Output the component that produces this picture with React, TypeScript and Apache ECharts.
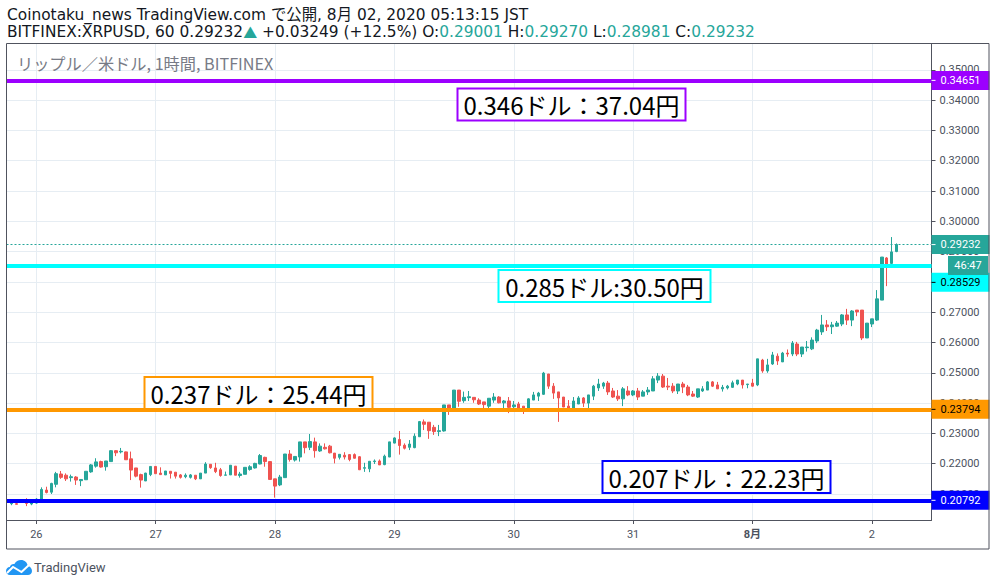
import React, { useEffect, useRef } from "react";
import * as echarts from "echarts";

const dayLabels = ["26", "27", "28", "29", "30", "31", "8月", "2"];
const yTicks = [0.21, 0.22, 0.23, 0.24, 0.25, 0.26, 0.27, 0.28, 0.29, 0.3, 0.31, 0.32, 0.33, 0.34, 0.35];
const firstCandleSlot = 1;

// open, close, low, high
const candles: number[][] = [
  [0.2068,0.2071,0.2063,0.2080],[0.2068,0.2066,0.2066,0.2075],[0.2076,0.2079,0.2074,0.2082],[0.2075,0.2069,0.2060,0.2086],[0.2067,0.2070,0.2063,0.2080],
  [0.2070,0.2083,0.2068,0.2086],[0.2080,0.2115,0.2078,0.2122],[0.2113,0.2105,0.2102,0.2124],[0.2106,0.2135,0.2100,0.2137],[0.2132,0.2167,0.2122,0.2173],
  [0.2166,0.2155,0.2150,0.2176],[0.2162,0.2150,0.2143,0.2168],[0.2154,0.2157,0.2141,0.2164],[0.2156,0.2146,0.2130,0.2159],[0.2144,0.2148,0.2126,0.2148],
  [0.2147,0.2175,0.2147,0.2175],[0.2173,0.2196,0.2170,0.2199],[0.2192,0.2206,0.2187,0.2218],[0.2207,0.2189,0.2187,0.2210],[0.2190,0.2209,0.2177,0.2209],
  [0.2207,0.2243,0.2207,0.2245],[0.2243,0.2236,0.2225,0.2245],[0.2239,0.2241,0.2234,0.2252],[0.2239,0.2213,0.2213,0.2240],[0.2216,0.2179,0.2146,0.2240],
  [0.2186,0.2159,0.2155,0.2186],[0.2164,0.2146,0.2121,0.2167],[0.2143,0.2169,0.2143,0.2170],[0.2164,0.2191,0.2159,0.2191],[0.2191,0.2167,0.2167,0.2191],
  [0.2169,0.2164,0.2163,0.2188],[0.2163,0.2176,0.2163,0.2176],[0.2175,0.2168,0.2151,0.2175],[0.2172,0.2159,0.2151,0.2172],[0.2163,0.2155,0.2151,0.2166],
  [0.2157,0.2162,0.2152,0.2168],[0.2155,0.2163,0.2151,0.2166],[0.2162,0.2150,0.2146,0.2162],[0.2150,0.2169,0.2150,0.2169],[0.2169,0.2199,0.2169,0.2205],
  [0.2198,0.2187,0.2183,0.2198],[0.2186,0.2174,0.2169,0.2203],[0.2180,0.2161,0.2157,0.2186],[0.2162,0.2163,0.2162,0.2174],[0.2163,0.2195,0.2163,0.2195],
  [0.2192,0.2162,0.2162,0.2192],[0.2161,0.2166,0.2154,0.2173],[0.2165,0.2188,0.2165,0.2188],[0.2181,0.2190,0.2177,0.2195],[0.2186,0.2201,0.2184,0.2203],
  [0.2199,0.2227,0.2198,0.2232],[0.2221,0.2207,0.2190,0.2223],[0.2207,0.2148,0.2148,0.2207],[0.2150,0.2126,0.2088,0.2150],[0.2130,0.2156,0.2126,0.2163],
  [0.2154,0.2232,0.2154,0.2232],[0.2232,0.2214,0.2207,0.2245],[0.2212,0.2224,0.2207,0.2224],[0.2222,0.2272,0.2207,0.2272],[0.2272,0.2253,0.2234,0.2272],
  [0.2254,0.2273,0.2245,0.2298],[0.2272,0.2243,0.2220,0.2286],[0.2242,0.2258,0.2239,0.2267],[0.2254,0.2249,0.2247,0.2267],[0.2258,0.2236,0.2234,0.2262],
  [0.2235,0.2218,0.2201,0.2235],[0.2221,0.2231,0.2214,0.2232],[0.2228,0.2222,0.2214,0.2238],[0.2230,0.2214,0.2208,0.2232],[0.2230,0.2218,0.2217,0.2234],
  [0.2223,0.2180,0.2179,0.2225],[0.2185,0.2187,0.2173,0.2203],[0.2183,0.2208,0.2172,0.2208],[0.2207,0.2209,0.2199,0.2214],[0.2209,0.2196,0.2196,0.2214],
  [0.2197,0.2225,0.2195,0.2230],[0.2222,0.2272,0.2222,0.2272],[0.2268,0.2285,0.2267,0.2287],[0.2280,0.2260,0.2230,0.2308],[0.2261,0.2251,0.2247,0.2267],
  [0.2254,0.2265,0.2245,0.2278],[0.2253,0.2291,0.2251,0.2300],[0.2289,0.2339,0.2289,0.2341],[0.2338,0.2330,0.2311,0.2346],[0.2337,0.2309,0.2282,0.2337],
  [0.2320,0.2306,0.2295,0.2328],[0.2306,0.2309,0.2291,0.2328],[0.2308,0.2394,0.2306,0.2394],[0.2394,0.2382,0.2361,0.2394],[0.2383,0.2443,0.2383,0.2443],
  [0.2443,0.2406,0.2388,0.2443],[0.2408,0.2419,0.2401,0.2438],[0.2418,0.2421,0.2407,0.2440],[0.2419,0.2411,0.2401,0.2419],[0.2410,0.2397,0.2394,0.2416],
  [0.2404,0.2395,0.2379,0.2404],[0.2390,0.2416,0.2383,0.2416],[0.2410,0.2420,0.2401,0.2433],[0.2420,0.2401,0.2399,0.2423],[0.2401,0.2407,0.2383,0.2410],
  [0.2407,0.2386,0.2367,0.2420],[0.2388,0.2394,0.2383,0.2407],[0.2397,0.2383,0.2380,0.2404],[0.2390,0.2379,0.2364,0.2390],[0.2383,0.2414,0.2380,0.2416],
  [0.2410,0.2427,0.2410,0.2437],[0.2423,0.2433,0.2407,0.2437],[0.2429,0.2499,0.2427,0.2503],[0.2496,0.2456,0.2447,0.2496],[0.2456,0.2433,0.2414,0.2466],
  [0.2437,0.2417,0.2338,0.2437],[0.2420,0.2387,0.2387,0.2420],[0.2390,0.2383,0.2379,0.2410],[0.2383,0.2407,0.2382,0.2420],[0.2397,0.2417,0.2397,0.2423],
  [0.2417,0.2400,0.2387,0.2420],[0.2400,0.2427,0.2383,0.2427],[0.2423,0.2456,0.2410,0.2460],[0.2450,0.2463,0.2440,0.2480],[0.2456,0.2466,0.2447,0.2470],
  [0.2466,0.2437,0.2427,0.2473],[0.2440,0.2420,0.2417,0.2450],[0.2423,0.2414,0.2407,0.2443],[0.2414,0.2447,0.2390,0.2453],[0.2440,0.2427,0.2423,0.2456],
  [0.2427,0.2440,0.2423,0.2443],[0.2440,0.2420,0.2410,0.2450],[0.2423,0.2437,0.2423,0.2443],[0.2437,0.2443,0.2427,0.2453],[0.2440,0.2480,0.2440,0.2489],
  [0.2476,0.2489,0.2466,0.2499],[0.2489,0.2453,0.2450,0.2496],[0.2456,0.2453,0.2443,0.2483],[0.2456,0.2440,0.2433,0.2466],[0.2440,0.2463,0.2430,0.2463],
  [0.2463,0.2453,0.2433,0.2470],[0.2453,0.2427,0.2423,0.2460],[0.2430,0.2423,0.2420,0.2440],[0.2420,0.2447,0.2417,0.2447],[0.2440,0.2447,0.2437,0.2456],
  [0.2443,0.2470,0.2443,0.2473],[0.2470,0.2456,0.2453,0.2473],[0.2460,0.2447,0.2447,0.2470],[0.2447,0.2452,0.2438,0.2460],[0.2450,0.2456,0.2445,0.2460],
  [0.2452,0.2467,0.2450,0.2474],[0.2463,0.2476,0.2459,0.2476],[0.2476,0.2460,0.2448,0.2476],[0.2461,0.2463,0.2449,0.2463],[0.2466,0.2456,0.2454,0.2480],
  [0.2460,0.2546,0.2456,0.2546],[0.2542,0.2506,0.2500,0.2546],[0.2506,0.2526,0.2500,0.2546],[0.2529,0.2559,0.2526,0.2569],[0.2555,0.2539,0.2526,0.2564],
  [0.2536,0.2565,0.2536,0.2569],[0.2565,0.2562,0.2553,0.2577],[0.2562,0.2598,0.2555,0.2605],[0.2595,0.2562,0.2555,0.2602],[0.2562,0.2585,0.2552,0.2585],
  [0.2583,0.2585,0.2570,0.2605],[0.2579,0.2608,0.2575,0.2617],[0.2605,0.2641,0.2598,0.2645],[0.2635,0.2658,0.2625,0.2691],[0.2658,0.2652,0.2638,0.2674],
  [0.2652,0.2658,0.2628,0.2668],[0.2654,0.2664,0.2652,0.2671],[0.2661,0.2691,0.2654,0.2694],[0.2691,0.2674,0.2658,0.2711],[0.2674,0.2704,0.2654,0.2707],
  [0.2707,0.2701,0.2687,0.2707],[0.2707,0.2615,0.2608,0.2707],[0.2615,0.2664,0.2615,0.2664],[0.2661,0.2678,0.2651,0.2678],[0.2674,0.2744,0.2671,0.2773],
  [0.2740,0.2882,0.2740,0.2882],[0.2879,0.2856,0.2786,0.2882],[0.2861,0.2899,0.2852,0.2948],[0.29001,0.29232,0.28981,0.2927],
];

const levels = [
  { value: 0.34651, color: "#9c00ff", text: "#ffffff", shift: 0 },
  { value: 0.28529, color: "#00ffff", text: "#000000", shift: 16.5 },
  { value: 0.23794, color: "#ff9800", text: "#000000", shift: 0 },
  { value: 0.20792, color: "#0000ff", text: "#ffffff", shift: 0 },
];
const lastPrice = 0.29232;
const notes = [
  { label: "0.346ドル：37.04円", color: "#9c00ff", x: 457.5, y: 88.5, w: 228, h: 32 },
  { label: "0.285ドル:30.50円", color: "#00ffff", x: 498.5, y: 270, w: 212, h: 32 },
  { label: "0.237ドル：25.44円", color: "#ff9800", x: 144.5, y: 377, w: 228, h: 32 },
  { label: "0.207ドル：22.23円", color: "#0000ff", x: 602.5, y: 461, w: 228, h: 32 },
];

const UP = "#26a69a";
const DOWN = "#ef5350";
const INK = "#4c525e";
const GRID = "#e6edf3";
const CJK = '"Noto Sans CJK JP"';
const SANS = 'Roboto, "Noto Sans CJK JP"';
const HEAD = '"DejaVu Sans", "Noto Sans CJK JP"';

const hourSlots = Array.from({ length: 187 }, (_, i) => {
  const h = i - 6;
  return h % 24 === 0 ? dayLabels[h / 24] : `h${i}`;
});
const isDay = (i: number) => (i - 6) % 24 === 0;

function priceTag(value: number, bg: string, fg: string, shift: number) {
  return {
    show: true,
    position: "end",
    distance: 0,
    offset: [0, shift],
    formatter: `{d|}{t|${value.toFixed(5)}}`,
    backgroundColor: bg,
    padding: [3, 9, 3, 0],
    rich: {
      d: { width: 4, height: 1, backgroundColor: fg },
      t: { color: fg, fontSize: 11, fontFamily: SANS, lineHeight: 13, padding: [0, 0, 0, 5] },
    },
  };
}

echarts.graphic.registerShape(
  "tvcloud",
  echarts.graphic.extendPath(
    "M4 15C1.5 15 0 13.2 0 11C0 8.8 1.6 7 3.8 7C4.4 4.8 6.4 3.6 8.4 4C9.8 1.5 12.2 0 15 0C18.6 0 21.4 2.6 21.8 6C24.2 6.4 26 8.4 26 11C26 13.4 24 15 22 15Z",
    {}
  )
);

const headerStyle = { fontSize: 15.4, fontFamily: HEAD, fill: "#131722" };
const tealStyle = { fontSize: 15.4, fontFamily: HEAD, fill: UP };

export default function App() {
  const ref = useRef<HTMLDivElement>(null);
  useEffect(() => {
    const chart = echarts.init(ref.current!, undefined, { renderer: "svg" });
    chart.setOption({
      animation: false,
      backgroundColor: "#ffffff",
      dataset: { source: candles.map((c, i) => [i + firstCandleSlot, ...c]), sourceHeader: false },
      grid: { left: 6.5, top: 43.5, width: 925, height: 476.5, containLabel: false },
      xAxis: {
        type: "category",
        boundaryGap: false,
        data: hourSlots,
        axisLine: { show: true, lineStyle: { color: "#50535e" } },
        axisTick: { show: true, length: 4, interval: (i: number) => isDay(i), lineStyle: { color: "#50535e" } },
        splitLine: { show: true, interval: (i: number) => isDay(i), lineStyle: { color: GRID, width: 1 } },
        axisLabel: {
          interval: (i: number) => isDay(i),
          color: INK,
          fontSize: 11,
          fontFamily: SANS,
          margin: 9,
          formatter: (v: string) => (v === "8月" ? "{b|8月}" : v),
          rich: { b: { fontWeight: "bold", fontSize: 11, color: INK, fontFamily: SANS } },
        },
      },
      yAxis: {
        type: "value",
        position: "right",
        min: 0.20142,
        max: 0.35868,
        axisLine: { show: true, lineStyle: { color: "#50535e" } },
        axisTick: { show: true, length: 4, customValues: yTicks, lineStyle: { color: "#50535e" } },
        splitLine: { show: true, lineStyle: { color: GRID, width: 1 } },
        axisLabel: {
          customValues: yTicks,
          color: INK,
          fontSize: 11,
          fontFamily: SANS,
          margin: 8,
          formatter: (v: number) => v.toFixed(5),
        },
      },
      series: [
        {
          type: "candlestick",
          barWidth: 3,
          encode: { x: 0, y: [1, 2, 3, 4] },
          itemStyle: { color: UP, color0: DOWN, borderColor: UP, borderColor0: DOWN, borderWidth: 1 },
          silent: true,
          markLine: {
            silent: true,
            symbol: "none",
            animation: false,
            precision: 5,
            data: [
              {
                yAxis: lastPrice,
                lineStyle: { color: UP, width: 1, type: [2, 2] },
                label: priceTag(lastPrice, UP, "#ffffff", 0),
              },
              ...levels.map((l) => ({
                yAxis: l.value,
                lineStyle: { color: l.color, width: 4, type: "solid" },
                label: priceTag(l.value, l.color, l.text, l.shift),
              })),
            ],
          },
        },
      ],
      graphic: [
        { type: "rect", z: 90, silent: true, shape: { x: 6.5, y: 43.5, width: 982.5, height: 505.5 }, style: { fill: "none", stroke: "#50535e", lineWidth: 1 } },
        { type: "rect", z: 95, shape: { x: 948, y: 256, width: 40, height: 19 }, style: { fill: UP } },
        { type: "text", z: 96, style: { x: 968, y: 265.5, text: "46:47", fill: "#ffffff", fontSize: 11, fontFamily: SANS, align: "center", verticalAlign: "middle" } },
        {
          type: "text",
          z: 100,
          style: { x: 7, y: 15, text: "Coinotaku_news TradingView.com で公開, 8月 02, 2020 05:13:15 JST", verticalAlign: "middle", ...headerStyle },
        },
        {
          type: "text",
          z: 100,
          style: {
            x: 7,
            y: 32,
            verticalAlign: "middle",
            ...headerStyle,
            text: "BITFINEX:XRPUSD, 60 0.29232{u|▲} +0.03249 (+12.5%) O:{v|0.29001} H:{v|0.29270} L:{v|0.28981} C:{v|0.29232}",
            rich: { u: { fontSize: 14, fontFamily: CJK, fill: UP }, v: tealStyle },
          },
        },
        {
          type: "text",
          z: 100,
          style: { x: 17, y: 63, text: "リップル／米ドル, 1時間, BITFINEX", verticalAlign: "middle", fontSize: 16.2, fontFamily: CJK, fill: "#787b86" },
        },
        ...notes.flatMap((n) => [
          { type: "rect", z: 110, shape: { x: n.x, y: n.y, width: n.w, height: n.h }, style: { fill: "#ffffff", stroke: n.color, lineWidth: 2 } },
          {
            type: "text",
            z: 111,
            style: { x: n.x + n.w / 2, y: n.y + n.h / 2, text: n.label, align: "center", verticalAlign: "middle", fontSize: 24, fontFamily: CJK, fill: "#000000" },
          },
        ]),
        { type: "tvcloud", z: 100, x: 6, y: 560, style: { fill: "#2196f3" } },
        { type: "polyline", z: 101, shape: { points: [[7, 573], [13, 567], [21.5, 572], [29, 565]] }, style: { stroke: "#ffffff", lineWidth: 2, fill: "none" } },
        { type: "text", z: 100, style: { x: 34, y: 567.5, text: "TradingView", verticalAlign: "middle", fontSize: 13, fontFamily: SANS, fill: INK } },
      ],
    });
    return () => chart.dispose();
  }, []);
  return <div ref={ref} style={{ position: "fixed", left: 0, top: 0, width: 996, height: 586 }} />;
}
